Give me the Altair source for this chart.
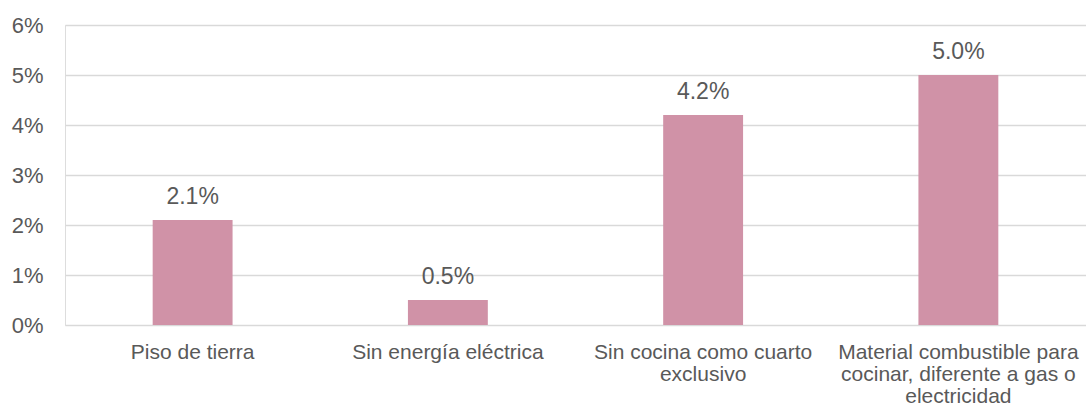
import altair as alt
import pandas as pd

categories = [
    "Piso de tierra",
    "Sin energía eléctrica",
    "Sin cocina como cuarto\nexclusivo",
    "Material combustible para\ncocinar, diferente a gas o\nelectricidad",
]
values = [0.021, 0.005, 0.042, 0.050]
labels = ["2.1%", "0.5%", "4.2%", "5.0%"]

df = pd.DataFrame({"cat": categories, "val": values, "lab": labels})

FONT = "Liberation Sans"
TXT = "#595959"

x = alt.X(
    "cat:N",
    sort=categories,
    title=None,
    scale=alt.Scale(paddingInner=0.687, paddingOuter=0.3435),
    axis=alt.Axis(
        labelAngle=0,
        labelExpr="split(datum.label, '\\n')",
        labelFont=FONT,
        labelFontSize=21,
        labelColor=TXT,
        labelLineHeight=22,
        labelPadding=16,
        labelBaseline="top",
        ticks=False,
        domain=False,
        labelLimit=400,
    ),
)

y = alt.Y(
    "val:Q",
    title=None,
    scale=alt.Scale(domain=[0, 0.06], nice=False),
    axis=alt.Axis(
        format=".0%",
        values=[0, 0.01, 0.02, 0.03, 0.04, 0.05, 0.06],
        labelFont=FONT,
        labelFontSize=22,
        labelColor=TXT,
        labelPadding=22,
        ticks=False,
        domain=False,
        gridColor="#D9D9D9",
        gridWidth=1.5,
    ),
)

bars = alt.Chart(df).mark_bar(color="#D092A7").encode(x=x, y=y)
text = alt.Chart(df).mark_text(
    font=FONT, fontSize=23, color=TXT, baseline="alphabetic", dy=-16
).encode(x=x, y=y, text="lab:N")

chart = (
    (bars + text)
    .properties(
        width=1021,
        height=300,
        padding={"left": 65, "top": 25, "right": 0, "bottom": 82},
        autosize=alt.AutoSizeParams(type="none"),
    )
    .configure_view(stroke=None)
    .configure(background="white")
)

chart.save("out.html", embed_options={"renderer": "svg", "actions": False})
